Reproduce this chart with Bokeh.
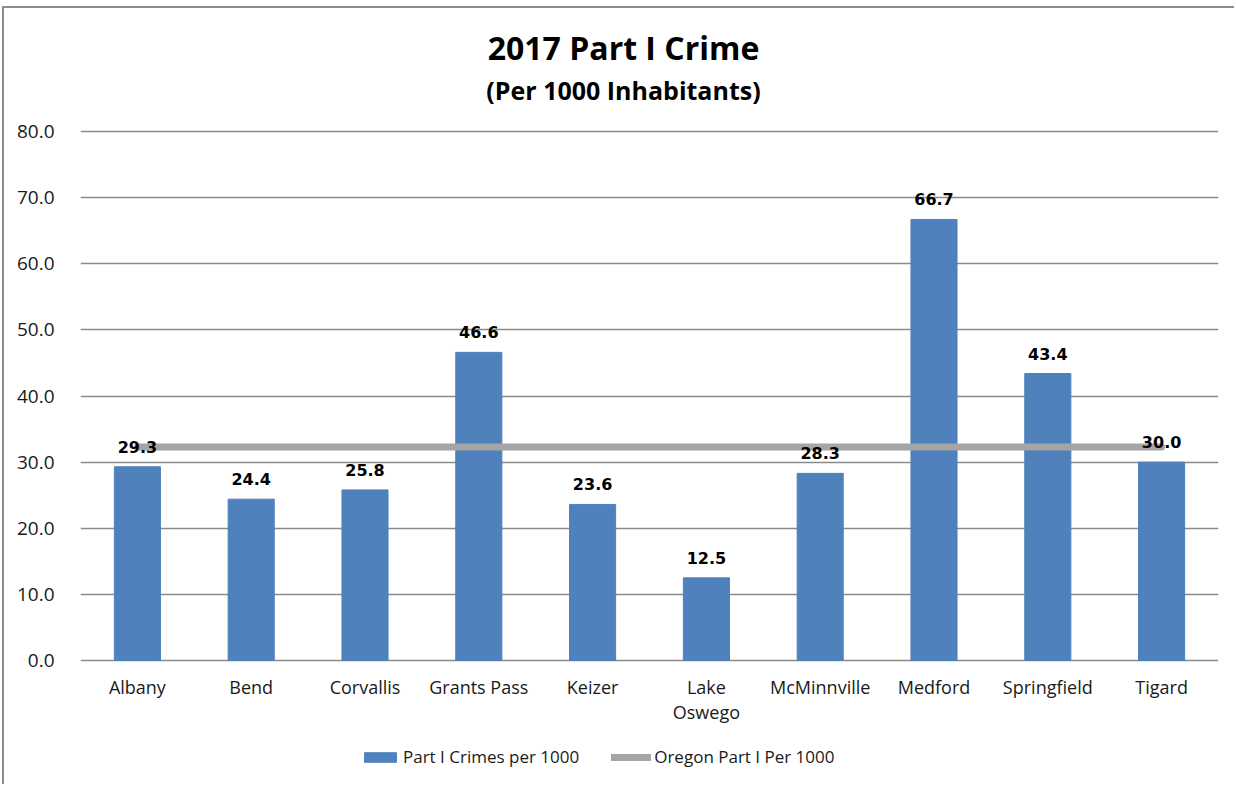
from bokeh.plotting import figure
from bokeh.models import ColumnDataSource, Legend, LegendItem, Label, NumeralTickFormatter, FixedTicker, LabelSet
from bokeh.core.properties import value
from bokeh.embed import file_html
from bokeh.resources import INLINE

cities = ["Albany", "Bend", "Corvallis", "Grants Pass", "Keizer", "Lake\nOswego",
          "McMinnville", "Medford", "Springfield", "Tigard"]
crimes_per_1000 = [29.3, 24.4, 25.8, 46.6, 23.6, 12.5, 28.3, 66.7, 43.4, 30.0]
oregon_per_1000 = [32.3] * 10
y_ticks = [0, 10, 20, 30, 40, 50, 60, 70, 80]
title_text = "2017 Part I Crime"
subtitle_text = "(Per 1000 Inhabitants)"

# frame covers the whole chart area; 0..80 maps to the plot band
PX_PER_UNIT = 529 / 80
FRAME_H = 776
TOP_PX, BOTTOM_PX = 123, 652   # pixel rows (inside frame) of 80 and 0
y_lo = -(FRAME_H - BOTTOM_PX) / PX_PER_UNIT
y_hi = 80 + TOP_PX / PX_PER_UNIT

labels = ["%.1f" % v for v in crimes_per_1000]
line1 = [c.split("\n")[0] for c in cities]
line2 = [c.split("\n")[1] if "\n" in c else "" for c in cities]
src = ColumnDataSource(dict(city=cities, val=crimes_per_1000, oregon=oregon_per_1000,
                            lab=labels, base=[0] * len(cities), l1=line1, l2=line2))

p = figure(x_range=cities, y_range=(y_lo, y_hi), frame_width=1138, frame_height=FRAME_H,
           output_backend="svg", toolbar_location=None, x_axis_location=None,
           min_border_left=76, min_border_right=16, min_border_top=0, min_border_bottom=0)
p.styles = {"margin-left": "2px", "margin-top": "6px",
            "border-left": "2px solid #8c8c8c", "border-top": "2px solid #8c8c8c"}
p.title = None
p.outline_line_color = None

p.add_layout(Label(x=543, y=FRAME_H - 39, x_units="screen", y_units="screen", text=title_text,
                   text_align="center", text_baseline="middle", text_font="Open Sans",
                   text_font_size="32px", text_font_style="bold", text_color="#000000"))
p.add_layout(Label(x=543, y=FRAME_H - 81, x_units="screen", y_units="screen", text=subtitle_text,
                   text_align="center", text_baseline="middle", text_font="Open Sans",
                   text_font_size="25px", text_font_style="bold", text_color="#000000"))

bars = p.vbar(x="city", top="val", width=0.405, source=src, color="#4F81BD")
line = p.line(x="city", y="oregon", source=src, line_color="#A5A5A5", line_width=7,
              line_cap="round")

p.add_layout(LabelSet(x="city", y="val", text="lab", source=src, text_align="center",
                      text_baseline="alphabetic", y_offset=14, text_font=value("DejaVu Sans"),
                      text_font_size=value("16px"), text_font_style="bold", text_color="#000000"))

# category labels under the baseline (two rows for wrapped names)
for col, off in (("l1", -14), ("l2", -39)):
    p.add_layout(LabelSet(x="city", y="base", text=col, source=src, text_align="center",
                          text_baseline="top", y_offset=off, text_font=value("Open Sans"),
                          text_font_size=value("18px"), text_color="#1a1a1a"))

p.xgrid.grid_line_color = None
p.ygrid.grid_line_color = "#8a8a8a"
p.ygrid.grid_line_width = 1.5
p.yaxis.ticker = FixedTicker(ticks=y_ticks)
p.yaxis.formatter = NumeralTickFormatter(format="0.0")
p.yaxis.axis_line_color = None
p.yaxis.major_tick_line_color = None
p.yaxis.minor_tick_line_color = None
p.yaxis.major_label_text_font = "Open Sans"
p.yaxis.major_label_text_font_size = "19px"
p.yaxis.major_label_text_color = "#1a1a1a"
p.yaxis.major_label_standoff = 20

legend = Legend(items=[LegendItem(label="Part I Crimes per 1000", renderers=[bars]),
                       LegendItem(label="Oregon Part I Per 1000", renderers=[line])],
                orientation="horizontal", location=(280, 16), label_text_font="Open Sans",
                label_text_font_size="17px", label_text_color="#1a1a1a",
                border_line_color=None, background_fill_alpha=0,
                glyph_width=40, glyph_height=12, spacing=32,
                label_standoff=3, margin=0, padding=3)
p.add_layout(legend)

open("out.html", "w").write(file_html(p, INLINE))
